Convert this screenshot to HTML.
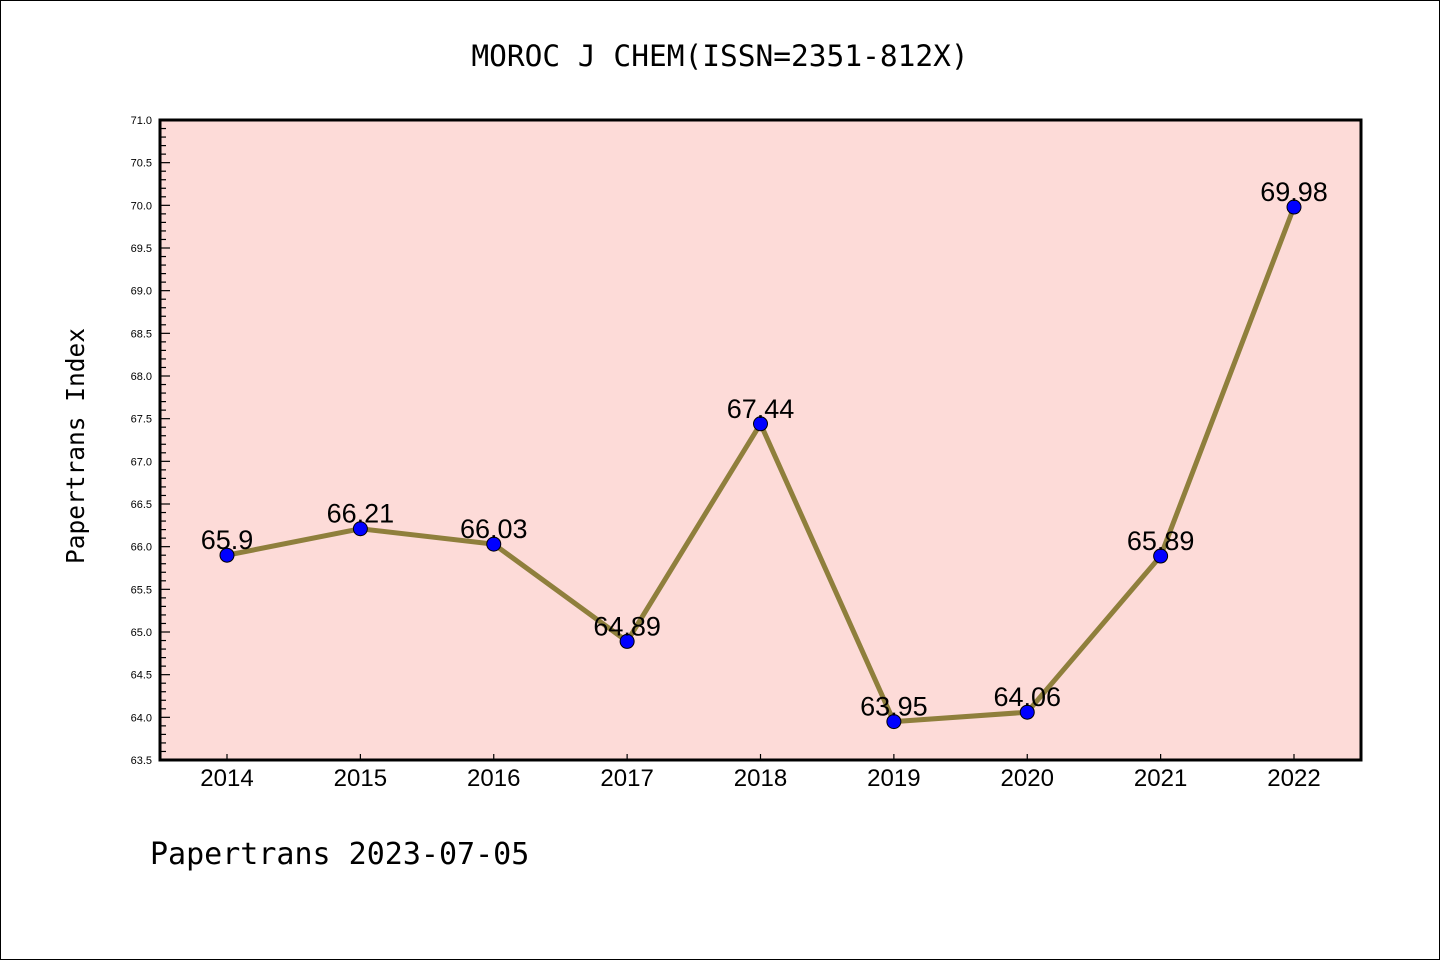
<!DOCTYPE html>
<html><head><meta charset="utf-8"><style>
html,body{margin:0;padding:0;background:#fff;}
svg{display:block;font-family:"Liberation Sans","DejaVu Sans",sans-serif;}
</style></head><body>
<svg width="1440" height="960" id="chart">
<rect x="0.5" y="0.5" width="1439" height="959" fill="#fff" stroke="#000"/>
<text x="720" y="66" text-anchor="middle" font-size="29.5" font-family="'DejaVu Sans Mono','Liberation Mono',monospace">MOROC J CHEM(ISSN=2351-812X)</text>
<rect x="160" y="120" width="1201" height="640" fill="#fddbd8"/>
<g id="yaxis"></g>
<g id="xaxis"></g>
<g id="series"></g>
<rect x="160" y="120" width="1201" height="640" fill="none" stroke="#000" stroke-width="3"/>
<text transform="translate(84,446) rotate(-90)" text-anchor="middle" font-size="24.5" font-family="'DejaVu Sans Mono','Liberation Mono',monospace">Papertrans Index</text>
<text x="150" y="864" font-size="30" font-family="'DejaVu Sans Mono','Liberation Mono',monospace">Papertrans 2023-07-05</text>
</svg>
<script>
const years = ["2014","2015","2016","2017","2018","2019","2020","2021","2022"];
const values = [65.9,66.21,66.03,64.89,67.44,63.95,64.06,65.89,69.98];
const valueLabels = ["65.9","66.21","66.03","64.89","67.44","63.95","64.06","65.89","69.98"];
const yMin = 63.5, yMax = 71.0;
const NS="http://www.w3.org/2000/svg";
function x(i){return 227+i*(1294-227)/(years.length-1);}
function y(v){return 760-(v-yMin)/(yMax-yMin)*640;}
function mk(t,a,p){const e=document.createElementNS(NS,t);for(const k in a)e.setAttribute(k,a[k]);p.appendChild(e);return e;}
const ya=document.getElementById('yaxis'),xa=document.getElementById('xaxis'),s=document.getElementById('series');
for(let k=0;k<=75;k++){
  const v=yMin+k*0.1, yy=y(v), major=k%5===0;
  const t=mk('line',{x1:160,x2:160+(major?10:6),y1:yy,y2:yy,stroke:'#000','stroke-width':1.2},ya);
  
  
  if(major){
    const l=mk('text',{x:152,y:yy+4,'text-anchor':'end','font-size':11},ya);
    l.textContent=v.toFixed(1);
    
    
  }
}
years.forEach((yr,i)=>{
  const t=mk('line',{x1:x(i),x2:x(i),y1:760,y2:754,stroke:'#000','stroke-width':1.2},xa);
  
  
  const l=mk('text',{x:x(i),y:786,'text-anchor':'middle','font-size':24},xa);
  l.textContent=yr;
  
  
});
const pl=mk('polyline',{points:values.map((v,i)=>x(i)+','+y(v)).join(' '),fill:'none',stroke:'#8f7f3c','stroke-width':5,'stroke-linejoin':'miter'},s);


values.forEach((v,i)=>{
  const c=mk('circle',{cx:x(i),cy:y(v),r:7,fill:'#0000ff',stroke:'#000','stroke-width':1},s);
  
  
});
values.forEach((v,i)=>{
  const l=mk('text',{x:x(i),y:y(v)-6,'text-anchor':'middle','font-size':27},s);
  l.textContent=valueLabels[i];
  
  
});
</script>
</body></html>
